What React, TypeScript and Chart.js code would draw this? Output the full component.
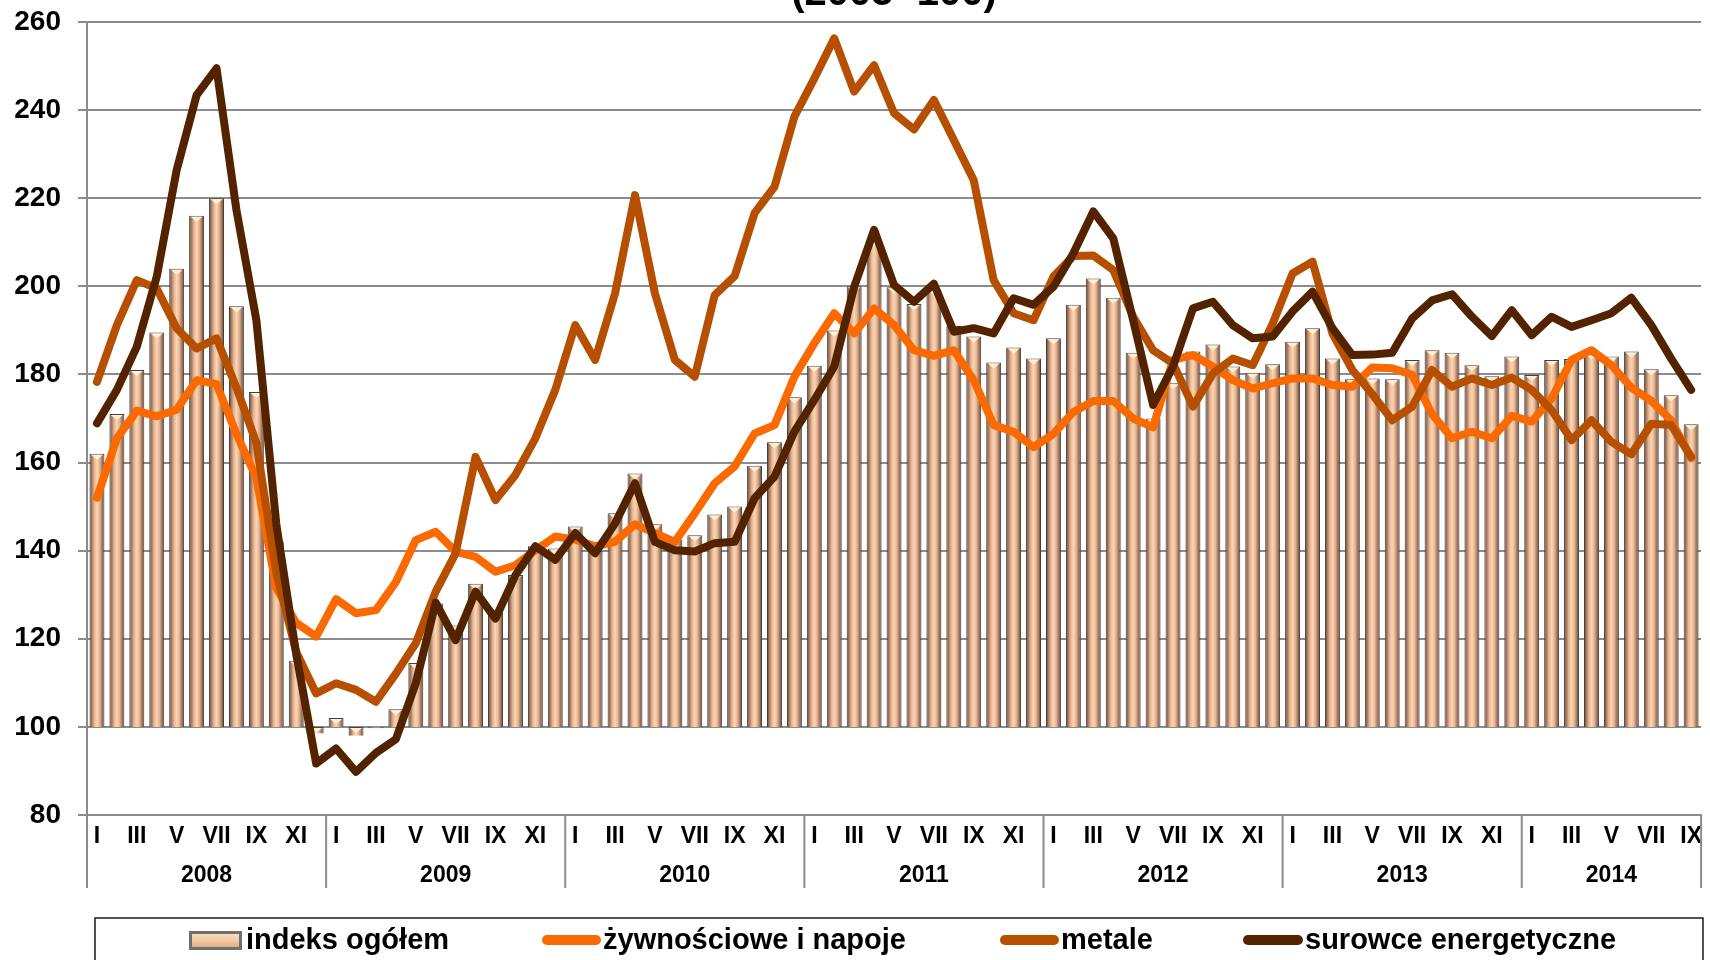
import React, { useEffect, useRef } from 'react';
import { Chart, registerables } from 'chart.js';

Chart.register(...registerables);

const years = ['2008', '2009', '2010', '2011', '2012', '2013', '2014'];
const monthsPerYear = [12, 12, 12, 12, 12, 12, 9];
const monthNames = ['I', 'II', 'III', 'IV', 'V', 'VI', 'VII', 'VIII', 'IX', 'X', 'XI', 'XII'];

const seriesNames = ['indeks ogółem', 'żywnościowe i napoje', 'metale', 'surowce energetyczne'];
const titleText = '(2005=100)';

const indexTotal = [
  162, 171, 181, 189.5, 204, 216, 220, 195.5, 176, 142, 115, 98.5,
  102, 98, 99.7, 104, 114.5, 128, 123, 132.5, 126.5, 134.5, 141, 140.5,
  145.5, 140, 148.5, 157.5, 146, 142.5, 143.5, 148.2, 150, 159.3, 164.6, 174.8,
  182, 190, 200, 210.5, 199.8, 196, 199.3, 191, 188.6, 182.7, 186.1, 183.6,
  188.2, 195.8, 201.8, 197.4, 184.9, 170, 178, 185.2, 186.8, 181.8, 180.4, 182.3,
  187.4, 190.5, 183.6, 178.9, 179.1, 178.9, 183.3, 185.5, 184.9, 182.1, 179.6, 184.1,
  179.9, 183.3, 183.5, 184.8, 184.1, 185.2, 181.2, 175.3, 168.7,
];

const food = [
  152, 165.5, 171.8, 170.5, 172, 178.7, 177.8, 166.5, 156.5, 131.5, 123.6, 120.5,
  129, 125.8, 126.5, 132.9, 142.4, 144.3, 139.8, 138.6, 135.2, 136.7, 140.1, 143.2,
  142.5, 141, 142, 146, 144, 142, 148.5, 155.3, 159.1, 166.6, 168.5, 179.5,
  187.1, 193.9, 189.3, 195, 191.2, 185.5, 184.2, 185.5, 178.7, 168.5, 167, 163.5,
  166.5, 171.5, 174, 174, 170, 168, 183.3, 184.4, 181.8, 178.7, 176.8, 178,
  179.1, 179.1, 177.6, 177.2, 181.6, 181.4, 179.9, 171, 165.5, 167, 165.5, 170.6,
  169.3, 174.5, 183.3, 185.5, 182.1, 177, 174, 169.6, 161,
];

const metals = [
  178.3, 191.2, 201.4, 199.5, 190.5, 185.9, 188.2, 177, 164.4, 135, 117, 107.6,
  109.9, 108.4, 105.7, 112.1, 119, 130.7, 139.4, 161.3, 151.5, 157.2, 165.5, 176.5,
  191.2, 183.3, 198.4, 220.7, 198.4, 183.3, 179.5, 198, 202.3, 216.6, 222.6, 238.5,
  247.2, 256.3, 244.2, 250.2, 239.3, 235.6, 242.3, 233.2, 224.1, 201.4, 193.9, 192.3,
  202.2, 206.9, 207, 203.7, 193.1, 185.5, 182.5, 172.7, 180.2, 183.6, 182.1, 191.5,
  202.9, 205.6, 189.3, 181, 175.5, 169.6, 172.7, 181, 177.2, 179.1, 177.6, 179.3,
  176.5, 171.9, 165.1, 169.6, 164.7, 161.9, 168.8, 168.5, 161.3,
];

const energy = [
  168.9, 176.5, 186.3, 202.2, 226.4, 243.4, 249.5, 217.3, 192.3, 146, 116.5, 91.7,
  95.1, 89.8, 94.1, 97.2, 109.9, 128.2, 119.7, 130.7, 124.6, 134.4, 141, 137.9,
  144, 139.4, 146.2, 155.3, 142, 140.1, 139.8, 141.7, 142, 151.9, 156.8, 167,
  174.2, 181.8, 199.9, 212.8, 200.3, 196.5, 200.6, 189.7, 190.5, 189.3, 197.3, 195.8,
  199.9, 207.5, 217, 210.9, 192.3, 173.1, 181.8, 195, 196.5, 191.2, 188.2, 188.6,
  194.3, 198.8, 190.5, 184.4, 184.5, 184.9, 192.7, 196.8, 198.2, 193.1, 188.7, 194.6,
  188.9, 193.1, 190.8, 192.3, 193.9, 197.4, 191.2, 183.6, 176.5,
];

const colors = {
  food: '#FA6A00',
  metals: '#B74F00',
  energy: '#532300',
  grid: '#8c8c8c',
};

const FONT = '"Liberation Sans", Arial, sans-serif';

const labels: string[] = [];
monthsPerYear.forEach((n) => {
  for (let m = 0; m < n; m++) labels.push(monthNames[m]);
});

function barGradient(ctx: any) {
  const chart = ctx.chart;
  if (!chart.chartArea || ctx.type !== 'data') return '#f3c39e';
  const xs = chart.scales.x;
  const x = xs.getPixelForValue(ctx.dataIndex);
  const w = 15;
  const g = chart.ctx.createLinearGradient(x - w / 2, 0, x + w / 2, 0);
  g.addColorStop(0, '#5a4233');
  g.addColorStop(0.14, '#9e745a');
  g.addColorStop(0.32, '#e6b592');
  g.addColorStop(0.5, '#fdd5b4');
  g.addColorStop(0.68, '#e6b592');
  g.addColorStop(0.86, '#9e745a');
  g.addColorStop(1, '#5a4233');
  return g;
}

const decorPlugin = {
  id: 'decor',
  afterDatasetDraw(chart: any, args: any) {
    if (args.index !== 0) return;
    const ctx = chart.ctx;
    ctx.save();
    args.meta.data.forEach((bar: any) => {
      const { x, y, base, width } = bar.getProps(['x', 'y', 'base', 'width'], true);
      const dir = y <= base ? 1 : -1;
      const h = Math.min(5, Math.abs(base - y) - 1);
      if (h <= 0) return;
      ctx.beginPath();
      ctx.moveTo(x - width / 2 + 1.5, y + dir * 1);
      ctx.lineTo(x + width / 2 - 1.5, y + dir * 1);
      ctx.lineTo(x, y + dir * (h + 1));
      ctx.closePath();
      ctx.fillStyle = '#fff0d4';
      ctx.fill();
    });
    ctx.restore();
  },
  afterDraw(chart: any) {
    const ctx = chart.ctx;
    const xs = chart.scales.x;
    const area = chart.chartArea;
    const half = (xs.getPixelForValue(1) - xs.getPixelForValue(0)) / 2;
    ctx.save();
    // year separators and labels
    ctx.strokeStyle = colors.grid;
    ctx.lineWidth = 2;
    ctx.fillStyle = '#000';
    ctx.font = `bold 23px ${FONT}`;
    ctx.textAlign = 'center';
    ctx.textBaseline = 'middle';
    let idx = 0;
    let right = area.left;
    years.forEach((yr, k) => {
      const n = monthsPerYear[k];
      const left = xs.getPixelForValue(idx) - half;
      right = xs.getPixelForValue(idx + n - 1) + half;
      ctx.beginPath();
      ctx.moveTo(left, area.bottom);
      ctx.lineTo(left, area.bottom + 73);
      ctx.stroke();
      ctx.fillText(yr, (left + right) / 2, area.bottom + 61);
      idx += n;
    });
    ctx.beginPath();
    ctx.moveTo(right, area.bottom);
    ctx.lineTo(right, area.bottom + 73);
    ctx.stroke();

    // title (second line, cut by the top edge)
    ctx.font = `bold 40px ${FONT}`;
    ctx.textBaseline = 'alphabetic';
    ctx.fillText(titleText, (area.left + area.right) / 2, 5);

    // legend
    const ly = 940;
    ctx.strokeStyle = '#1a1a1a';
    ctx.lineWidth = 1.5;
    ctx.strokeRect(95, 918, 1608, 60);

    // bar symbol
    const g = ctx.createLinearGradient(0, 931, 0, 950);
    g.addColorStop(0, '#fbe3cc');
    g.addColorStop(0.5, '#f3c7a3');
    g.addColorStop(1, '#d8a47f');
    ctx.fillStyle = g;
    ctx.fillRect(189, 931, 53, 19);
    ctx.strokeStyle = '#707070';
    ctx.lineWidth = 3;
    ctx.strokeRect(190.5, 932.5, 50, 16);

    const lineSym = (x1: number, x2: number, c: string) => {
      ctx.strokeStyle = c;
      ctx.lineWidth = 10;
      ctx.lineCap = 'round';
      ctx.beginPath();
      ctx.moveTo(x1 + 5, ly);
      ctx.lineTo(x2 - 5, ly);
      ctx.stroke();
    };
    lineSym(542, 601, colors.food);
    lineSym(1000, 1059, colors.metals);
    lineSym(1243, 1303, colors.energy);

    ctx.fillStyle = '#000';
    ctx.font = `bold 29px ${FONT}`;
    ctx.textAlign = 'left';
    ctx.textBaseline = 'middle';
    ctx.fillText(seriesNames[0], 246, ly + 1);
    ctx.fillText(seriesNames[1], 603, ly + 1);
    ctx.fillText(seriesNames[2], 1061, ly + 1);
    ctx.fillText(seriesNames[3], 1305, ly + 1);
    ctx.restore();
  },
};

export default function App() {
  const ref = useRef<HTMLCanvasElement | null>(null);
  useEffect(() => {
    if (!ref.current) return;
    const lineDs = (label: string, data: number[], color: string, order: number) => ({
      type: 'line' as const,
      label,
      data,
      borderColor: color,
      backgroundColor: color,
      borderWidth: 8,
      pointRadius: 0,
      tension: 0,
      borderJoinStyle: 'round' as const,
      borderCapStyle: 'round' as const,
      fill: false,
      order,
    });
    const chart = new Chart(ref.current, {
      type: 'bar',
      data: {
        labels,
        datasets: [
          {
            type: 'bar' as const,
            label: seriesNames[0],
            data: indexTotal.map((v) => [100, v]) as any,
            backgroundColor: barGradient as any,
            borderColor: '#404040',
            borderWidth: 1,
            borderSkipped: 'start',
            barPercentage: 0.75,
            categoryPercentage: 1,
            order: 10,
          },
          lineDs(seriesNames[1], food, colors.food, 3),
          lineDs(seriesNames[2], metals, colors.metals, 2),
          lineDs(seriesNames[3], energy, colors.energy, 1),
        ] as any,
      },
      options: {
        animation: false,
        responsive: false,
        maintainAspectRatio: false,
        layout: { padding: { top: 22, right: 2, bottom: 0, left: 0 } },
        plugins: {
          legend: { display: false },
          title: { display: false },
          tooltip: { enabled: false },
        },
        scales: {
          x: {
            offset: true,
            grid: { display: false, drawTicks: false },
            border: { display: true, color: colors.grid, width: 2 },
            ticks: {
              autoSkip: false,
              maxRotation: 0,
              minRotation: 0,
              padding: 8,
              color: '#000',
              font: { family: FONT, size: 23, weight: 'bold' },
              callback: (_v: any, i: number) => (i % 12) % 2 === 0 ? labels[i] : '',
            },
            afterFit: (s: any) => {
              s.height = 145;
            },
          },
          y: {
            min: 80,
            max: 260,
            grid: { color: colors.grid, lineWidth: 2, tickLength: 9, drawTicks: true },
            border: { display: true, color: colors.grid, width: 2 },
            ticks: {
              stepSize: 20,
              padding: 17,
              color: '#000',
              font: { family: FONT, size: 28, weight: 'bold' },
            },
            afterFit: (s: any) => {
              s.width = 87;
              s.paddingTop = 0;
              s.paddingBottom = 0;
            },
          },
        },
      } as any,
      plugins: [decorPlugin],
    });
    return () => chart.destroy();
  }, []);

  return (
    <div style={{ position: 'absolute', left: 0, top: 0, width: 1710, height: 960, background: '#fff', overflow: 'hidden' }}>
      <canvas ref={ref} width={1710} height={960} style={{ width: 1710, height: 960, display: 'block' }} />
    </div>
  );
}
